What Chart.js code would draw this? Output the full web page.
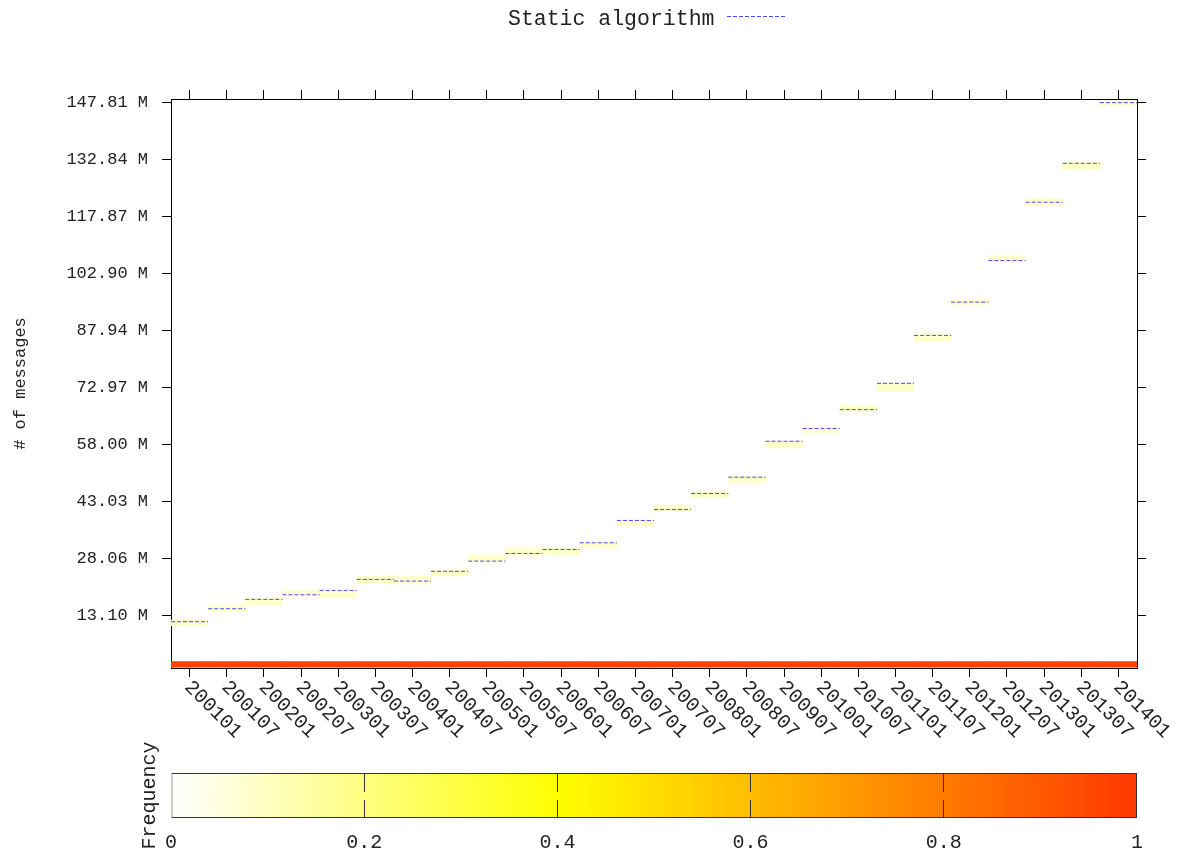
<!DOCTYPE html>
<html>
<head>
<meta charset="utf-8">
<script src="https://cdn.jsdelivr.net/npm/chart.js@4.4.1/dist/chart.umd.min.js"></script>
<style>
  html, body { margin: 0; padding: 0; background: #fff; }
  #wrap { position: relative; width: 1192px; height: 854px; }
  #mainChart { position: absolute; left: 0; top: 0; }
  #scaleChart { position: absolute; left: 0; top: 730px; }
</style>
</head>
<body>
<div id="wrap">
  <canvas id="mainChart" width="1192" height="760"></canvas>
  <canvas id="scaleChart" width="1192" height="124"></canvas>
</div>
<script>
// half-year snapshots (200901 is missing from the source data)
const months = ['200101', '200107', '200201', '200207', '200301', '200307', '200401', '200407',
  '200501', '200507', '200601', '200607', '200701', '200707', '200801', '200807', '200907',
  '201001', '201007', '201101', '201107', '201201', '201207', '201301', '201307', '201401'];

// static algorithm, millions of messages
const stepValues = [11.34, 14.75, 17.22, 18.43, 19.59, 22.47, 22.03, 24.60, 27.28, 29.30,
  30.35, 32.09, 37.97, 40.86, 45.06, 49.34, 58.79, 62.12, 67.11, 74.02,
  86.62, 95.37, 106.32, 121.63, 131.87, 147.81];

// histogram cell around each step (millions)
const cellLow = [10.29, 13.97, 15.73, 18.09, 17.64, 21.58, 21.58, 23.42, 27.10, 28.86,
  28.86, 30.77, 36.55, 40.49, 43.95, 47.84, 57.03, 60.97, 66.48, 71.97,
  85.13, 94.68, 106.13, 120.76, 130.21, 147.02];
const cellHigh = [11.79, 15.73, 17.64, 19.66, 19.66, 23.34, 23.34, 25.18, 28.86, 30.77,
  30.77, 32.35, 38.05, 41.98, 45.58, 49.60, 58.79, 62.54, 68.24, 74.10,
  87.07, 95.99, 107.63, 122.52, 132.13, 148.33];
const cellFreq = 0.08;

// bottom bin, every column
const baseBin = [-0.6, 0.85];
const baseFreq = 0.97;

const yTickValues = [13.10, 28.06, 43.03, 58.00, 72.97, 87.94, 102.90, 117.87, 132.84, 147.81];
const freqTicks = [0, 0.2, 0.4, 0.6, 0.8, 1];

const FONT = "'Liberation Mono', 'Courier New', monospace";
const TEXT = '#222';
Chart.defaults.font.family = FONT;
Chart.defaults.color = TEXT;

// white -> yellow -> red-orange
const paletteStops = [[0, [255, 255, 255]], [0.4, [255, 255, 0]], [1, [255, 56, 0]]];
function palette(f) {
  for (let i = 1; i < paletteStops.length; i++) {
    const [p1, c1] = paletteStops[i];
    const [p0, c0] = paletteStops[i - 1];
    if (f <= p1) {
      const t = (f - p0) / (p1 - p0);
      const c = c0.map((v, k) => Math.round(v + (c1[k] - v) * t));
      return `rgb(${c[0]},${c[1]},${c[2]})`;
    }
  }
  const c = paletteStops[paletteStops.length - 1][1];
  return `rgb(${c[0]},${c[1]},${c[2]})`;
}

// each step is its own horizontal piece, broken by a null point
const segPoints = [];
stepValues.forEach((v, i) => {
  segPoints.push({x: i, y: v}, {x: i + 1, y: v}, {x: i + 1, y: null});
});

const tickGrid = {drawOnChartArea: false, tickLength: 9, color: '#000', lineWidth: 1};
const fixedTicks = s => { s.ticks = yTickValues.map(v => ({value: v})); };

const slantedLabels = {
  id: 'slantedLabels',
  afterDraw(chart) {
    const {ctx} = chart;
    const x = chart.scales.x;
    ctx.save();
    ctx.fillStyle = TEXT;
    ctx.font = '20px ' + FONT;
    ctx.textAlign = 'left';
    ctx.textBaseline = 'middle';
    months.forEach((m, i) => {
      const px = x.getPixelForTick(i);
      ctx.save();
      ctx.translate(px - 2, x.top + 16);
      ctx.rotate(Math.PI / 4);
      ctx.fillText(m, 0, 0);
      ctx.restore();
    });

    // key at the top
    const ds = chart.data.datasets[0];
    ctx.font = '21.5px ' + FONT;
    ctx.textBaseline = 'alphabetic';
    ctx.fillText(ds.label, 508, 25);
    ctx.strokeStyle = ds.borderColor;
    ctx.lineWidth = 1;
    ctx.setLineDash(ds.borderDash);
    ctx.beginPath();
    ctx.moveTo(727, 16.5);
    ctx.lineTo(787, 16.5);
    ctx.stroke();
    ctx.restore();
  }
};

new Chart(document.getElementById('mainChart'), {
  type: 'bar',
  data: {
    labels: months,
    datasets: [
      {
        type: 'line',
        label: 'Static algorithm',
        data: segPoints,
        xAxisID: 'xl',
        yAxisID: 'y',
        borderColor: '#4a4aff',
        borderWidth: 1,
        borderDash: [4, 2],
        pointRadius: 0,
        spanGaps: false,
        order: 0
      },
      {
        label: 'cells',
        data: months.map((m, i) => [cellLow[i], cellHigh[i]]),
        backgroundColor: palette(cellFreq),
        grouped: false,
        barPercentage: 1,
        categoryPercentage: 1,
        order: 1
      },
      {
        label: 'base',
        data: months.map(() => baseBin),
        backgroundColor: palette(baseFreq),
        grouped: false,
        barPercentage: 1,
        categoryPercentage: 1,
        order: 2
      }
    ]
  },
  options: {
    responsive: false,
    animation: false,
    events: [],
    layout: {padding: 0},
    plugins: {legend: {display: false}, tooltip: {enabled: false}},
    scales: {
      x: {
        type: 'category',
        position: 'bottom',
        offset: true,
        grid: Object.assign({offset: false}, tickGrid),
        border: {color: '#000', width: 1},
        ticks: {display: false},
        afterFit: s => { s.height = 92; }
      },
      x2: {
        type: 'category',
        position: 'top',
        offset: true,
        grid: Object.assign({offset: false}, tickGrid),
        border: {color: '#000', width: 1},
        ticks: {display: false},
        afterFit: s => { s.height = 99; }
      },
      xl: {
        type: 'linear',
        display: false,
        offset: false,
        grid: {offset: false},
        min: 0,
        max: months.length
      },
      y: {
        type: 'linear',
        position: 'left',
        min: -0.82,
        max: 148.77,
        afterBuildTicks: fixedTicks,
        grid: tickGrid,
        border: {color: '#000', width: 1},
        ticks: {padding: 14, font: {size: 17}, callback: v => v.toFixed(2) + ' M'},
        title: {display: true, text: '# of messages', font: {size: 17}, padding: {top: 10, bottom: 0}},
        afterFit: s => { s.width = 171; }
      },
      y2: {
        type: 'linear',
        position: 'right',
        min: -0.82,
        max: 148.77,
        afterBuildTicks: fixedTicks,
        grid: tickGrid,
        border: {color: '#000', width: 1},
        ticks: {display: false},
        afterFit: s => { s.width = 55; }
      }
    }
  },
  plugins: [slantedLabels]
});

// colour scale for the frequency of each cell
new Chart(document.getElementById('scaleChart'), {
  type: 'bar',
  data: {
    labels: [''],
    datasets: [{
      data: [[0, 1]],
      backgroundColor: ctx => {
        const {chart} = ctx;
        const area = chart.chartArea;
        if (!area) return null;
        const g = chart.ctx.createLinearGradient(area.left, 0, area.right, 0);
        paletteStops.forEach(([p]) => g.addColorStop(p, palette(p)));
        return g;
      },
      borderColor: '#333',
      borderWidth: 1,
      borderSkipped: false,
      inflateAmount: 0,
      barPercentage: 1,
      categoryPercentage: 1
    }]
  },
  options: {
    indexAxis: 'y',
    responsive: false,
    animation: false,
    events: [],
    layout: {padding: {top: 43, right: 55}},
    plugins: {legend: {display: false}, tooltip: {enabled: false}},
    scales: {
      x: {
        type: 'linear',
        position: 'bottom',
        min: 0,
        max: 1,
        afterBuildTicks: s => { s.ticks = freqTicks.map(v => ({value: v})); },
        grid: {drawTicks: false, color: ctx => (ctx.tick && ctx.tick.value > 0 && ctx.tick.value < 1) ? '#333' : 'rgba(0,0,0,0)', lineWidth: 1, z: 1},
        border: {display: false, dash: [19, 8]},
        ticks: {padding: 13, font: {size: 20}, callback: v => String(v)},
        afterFit: s => { s.height = 36; }
      },
      y: {
        type: 'category',
        position: 'left',
        grid: {display: false},
        border: {display: false},
        ticks: {display: false},
        title: {display: true, text: 'Frequency', font: {size: 20}, padding: {top: 138, bottom: 0}},
        afterFit: s => { s.width = 171; }
      }
    }
  }
});
</script>
</body>
</html>
